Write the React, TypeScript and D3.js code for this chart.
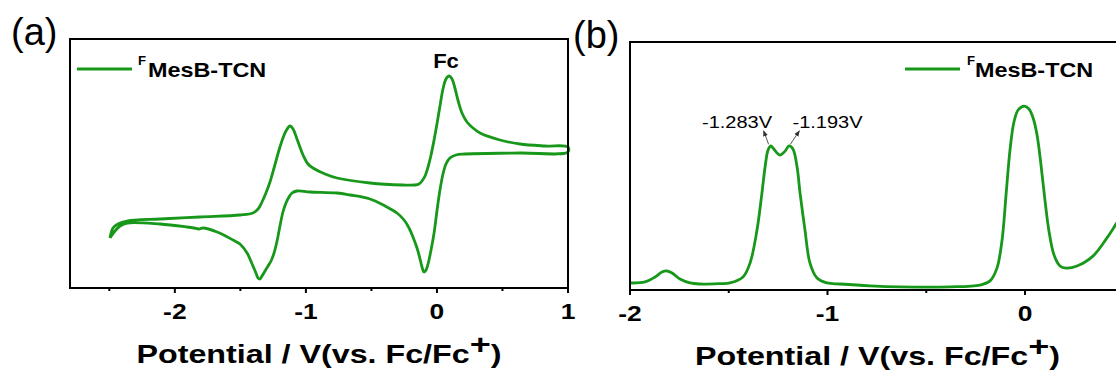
import React from "react";
import * as d3 from "d3";

// ---------- Panel (a): cyclic voltammogram ----------
const cvUpperV = [-2.495, -2.472, -2.434, -2.365, -2.113, -1.808, -1.503, -1.404, -1.365, -1.335, -1.305, -1.274, -1.243, -1.22, -1.198, -1.175, -1.152, -1.121, -1.098, -1.068, -1.022, -0.984, -0.946, -0.854, -0.763, -0.511, -0.259, -0.167, -0.137, -0.114, -0.091, -0.068, -0.045, -0.022, 0.0, 0.023, 0.046, 0.069, 0.092, 0.115, 0.137, 0.16, 0.191, 0.229, 0.275, 0.329, 0.481, 0.634, 0.825, 1.0];
const cvUpperI = [-3.0, -2.0, -1.6, -1.3, -1.1, -0.9, -0.7, -0.5, -0.1, 0.6, 1.5, 2.6, 4.0, 5.1, 6.1, 7.0, 7.7, 8.2, 7.9, 6.9, 5.3, 4.4, 4.0, 3.4, 3.0, 2.5, 2.3, 2.3, 2.4, 2.7, 3.2, 4.1, 5.3, 6.8, 8.4, 10.2, 11.9, 12.9, 13.2, 12.9, 12.0, 10.8, 9.5, 8.6, 8.0, 7.5, 6.8, 6.4, 6.2, 6.1];
const cvLowerV = [1.0, 0.634, 0.214, 0.145, 0.099, 0.069, 0.046, 0.023, 0.0, -0.022, -0.045, -0.068, -0.083, -0.099, -0.114, -0.129, -0.152, -0.183, -0.213, -0.251, -0.305, -0.396, -0.511, -0.663, -0.763, -0.969, -1.068, -1.106, -1.129, -1.152, -1.175, -1.198, -1.22, -1.243, -1.266, -1.289, -1.312, -1.335, -1.35, -1.365, -1.381, -1.404, -1.449, -1.503, -1.556, -1.678, -1.785, -1.816, -1.854, -1.907, -2.113, -2.365, -2.418, -2.457, -2.495];
const cvLowerI = [5.6, 5.5, 5.4, 5.3, 5.0, 4.4, 3.4, 1.8, -0.3, -2.5, -4.2, -5.6, -6.2, -6.4, -5.9, -5.1, -4.0, -2.9, -2.0, -1.2, -0.5, 0.2, 0.9, 1.3, 1.5, 1.6, 1.7, 1.5, 1.1, 0.5, -0.4, -1.8, -3.3, -4.5, -5.3, -5.8, -6.3, -6.8, -7.1, -7.0, -6.5, -5.8, -4.5, -3.6, -3.2, -2.4, -2.0, -2.1, -2.0, -1.9, -1.6, -1.5, -1.8, -2.3, -3.0];

const majorTicksA = [-2, -1, 0, 1];
const minorTicksA = [-2.5, -1.5, -0.5, 0.5];

// ---------- Panel (b): differential pulse voltammogram ----------
const dpvV = [-2.0, -1.924, -1.873, -1.838, -1.813, -1.787, -1.747, -1.696, -1.646, -1.544, -1.494, -1.428, -1.392, -1.357, -1.332, -1.316, -1.301, -1.286, -1.276, -1.241, -1.215, -1.195, -1.175, -1.154, -1.139, -1.114, -1.089, -1.053, -1.003, -0.937, -0.785, -0.633, -0.38, -0.228, -0.177, -0.142, -0.116, -0.096, -0.076, -0.056, -0.035, -0.005, 0.02, 0.041, 0.061, 0.081, 0.101, 0.122, 0.147, 0.177, 0.208, 0.263, 0.344, 0.415, 0.461, 0.5];
const dpvI = [0.034, 0.039, 0.063, 0.087, 0.092, 0.082, 0.053, 0.034, 0.029, 0.031, 0.034, 0.063, 0.131, 0.29, 0.469, 0.595, 0.677, 0.697, 0.687, 0.653, 0.672, 0.697, 0.682, 0.595, 0.469, 0.29, 0.131, 0.058, 0.034, 0.029, 0.02, 0.015, 0.015, 0.024, 0.044, 0.106, 0.242, 0.46, 0.677, 0.813, 0.871, 0.89, 0.876, 0.832, 0.75, 0.605, 0.435, 0.281, 0.169, 0.116, 0.106, 0.116, 0.164, 0.252, 0.319, 0.377];

const majorTicksB = [-2, -1, 0];
const minorTicksB = [-1.5, -0.5];

const peakLabels = ["-1.283V", "-1.193V"];
const peakPos = [-1.283, -1.193];
const seriesName = "MesB-TCN";

const GREEN = "#17981a";
const FONT = "'Liberation Sans', Arial, Helvetica, sans-serif";

const xA = d3.scaleLinear().domain([-2.8, 1]).range([70, 568]);
const yA = d3.scaleLinear().domain([-8, 16.9]).range([288, 39]);
const xB = d3.scaleLinear().domain([-2, 0.5]).range([630, 1123.75]);
const yB = d3.scaleLinear().domain([0, 1.2]).range([290, 42]);

function SText({ x, y, sx = 1, anchor = "start", size, weight = "normal", children, fill = "#000" }: any) {
  return (
    <text
      transform={`translate(${x},${y}) scale(${sx},1)`}
      textAnchor={anchor}
      fontSize={size}
      fontWeight={weight}
      fontFamily={FONT}
      fill={fill}
    >
      {children}
    </text>
  );
}

function AxisTitle({ cx, y }: any) {
  return (
    <SText x={cx} y={y} sx={1.29} anchor="middle" size={25} weight="bold">
      Potential / V(vs. Fc/Fc
      <tspan dy={-9} fontSize={28}>+</tspan>
      <tspan dy={9}>)</tspan>
    </SText>
  );
}

const tickFmt = (t: number) => String(t);

export default function App() {
  const cvPts: [number, number][] = [
    ...cvUpperV.map((v, i) => [v, cvUpperI[i]] as [number, number]),
    ...cvLowerV.map((v, i) => [v, cvLowerI[i]] as [number, number]),
  ];
  const lineA = d3
    .line<[number, number]>()
    .x((d) => xA(d[0]))
    .y((d) => yA(d[1]))
    .curve(d3.curveCatmullRom.alpha(0.5));
  const dpvPts = dpvV.map((v, i) => [v, dpvI[i]] as [number, number]);
  const lineB = d3
    .line<[number, number]>()
    .x((d) => xB(d[0]))
    .y((d) => yB(d[1]))
    .curve(d3.curveCatmullRom.alpha(0.5));

  const [a0, a1] = xA.range();
  const [aB, aT] = yA.range();
  const [b0] = xB.range();
  const [bB, bT] = yB.range();

  return (
    <svg
      width={1116}
      height={373}
      style={{ position: "absolute", left: 0, top: 0, background: "#fff" }}
    >
      <rect x={0} y={0} width={1116} height={373} fill="#fff" />
      {/* ---------- Panel (a) ---------- */}
      <SText x={11} y={45} size={38}>(a)</SText>
      <path d={lineA(cvPts) || ""} fill="none" stroke={GREEN} strokeWidth={2.8} strokeLinejoin="round" />
      <rect x={a0} y={aT} width={a1 - a0} height={aB - aT} fill="none" stroke="#000" strokeWidth={2} />
      {majorTicksA.map((t) => (
        <line key={"ma" + t} x1={xA(t)} x2={xA(t)} y1={aB} y2={aB + 5} stroke="#000" strokeWidth={2} />
      ))}
      {minorTicksA.map((t) => (
        <line key={"mi" + t} x1={xA(t)} x2={xA(t)} y1={aB} y2={aB + 3} stroke="#000" strokeWidth={2} />
      ))}
      {majorTicksA.map((t) => (
        <SText key={"la" + t} x={xA(t)} y={319} sx={1.2} anchor="middle" size={22} weight="bold">
          {tickFmt(t)}
        </SText>
      ))}
      <AxisTitle cx={(a0 + a1) / 2} y={363} />
      {/* legend a */}
      <line x1={77} x2={132} y1={69} y2={69} stroke={GREEN} strokeWidth={2.8} />
      <SText x={138} y={65} sx={1.1} size={12} weight="bold">F</SText>
      <SText x={148} y={77} sx={1.2} size={19.5} weight="bold">{seriesName}</SText>
      <SText x={446} y={68} sx={1.05} anchor="middle" size={21} weight="bold">Fc</SText>

      {/* ---------- Panel (b) ---------- */}
      <SText x={573} y={48} size={38}>(b)</SText>
      <path d={lineB(dpvPts) || ""} fill="none" stroke={GREEN} strokeWidth={2.8} strokeLinejoin="round" />
      <path d={`M${b0 + 1120},${bT} H${b0} V${bB} H${b0 + 1120}`} fill="none" stroke="#000" strokeWidth={2} />
      {majorTicksB.map((t) => (
        <line key={"mb" + t} x1={xB(t)} x2={xB(t)} y1={bB} y2={bB + 5} stroke="#000" strokeWidth={2} />
      ))}
      {minorTicksB.map((t) => (
        <line key={"nb" + t} x1={xB(t)} x2={xB(t)} y1={bB} y2={bB + 3} stroke="#000" strokeWidth={2} />
      ))}
      {majorTicksB.map((t) => (
        <SText key={"lb" + t} x={xB(t)} y={321} sx={1.2} anchor="middle" size={22} weight="bold">
          {tickFmt(t)}
        </SText>
      ))}
      <AxisTitle cx={877.5} y={365} />
      {/* legend b */}
      <line x1={905} x2={960} y1={69} y2={69} stroke={GREEN} strokeWidth={2.8} />
      <SText x={967} y={65} sx={1.1} size={12} weight="bold">F</SText>
      <SText x={975} y={77} sx={1.2} size={19.5} weight="bold">{seriesName}</SText>

      {/* peak annotations */}
      <defs>
        <marker id="arr" viewBox="0 0 10 10" refX={9} refY={5} markerWidth={6} markerHeight={6} orient="auto">
          <path d="M0,1 L10,5 L0,9 z" fill="#333" />
        </marker>
      </defs>
      {peakPos.map((p, i) => {
        const px = xB(p);
        const lx = i === 0 ? px - 8 : px + 10;
        return (
          <line
            key={"ar" + i}
            x1={px - (i === 0 ? 3 : -1)}
            y1={yB(0.705)}
            x2={lx}
            y2={yB(0.77)}
            stroke="#555"
            strokeWidth={1}
            markerEnd="url(#arr)"
          />
        );
      })}
      <SText x={737} y={128} sx={1.25} anchor="middle" size={16}>{peakLabels[0]}</SText>
      <SText x={827.5} y={128} sx={1.25} anchor="middle" size={16}>{peakLabels[1]}</SText>
    </svg>
  );
}
